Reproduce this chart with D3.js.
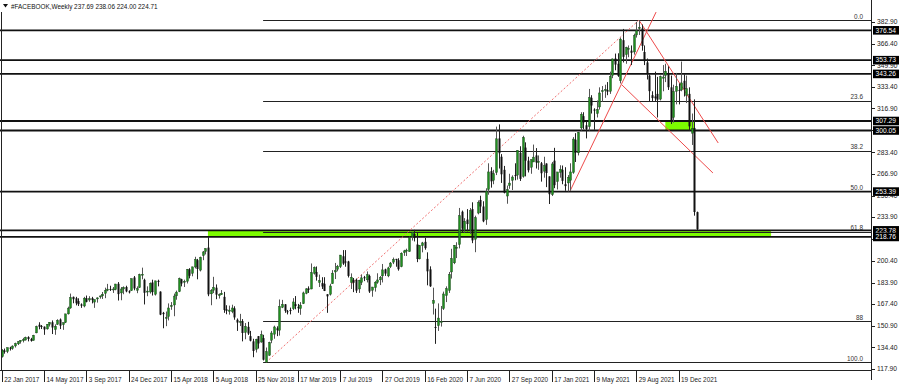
<!DOCTYPE html>
<html><head><meta charset="utf-8">
<script src="https://cdn.jsdelivr.net/npm/d3@7"></script>
<style>
html,body{margin:0;padding:0;background:#fff;}
svg text{font-family:"Liberation Sans",Arial,sans-serif;}
</style></head>
<body><svg id="c" width="900" height="386"></svg>
<script>
// ---- data (weekly bars from week of 22 Jan 2017) ----
const firstWeek = "2017-01-22";
const opens = [127.3,132.0,131.2,134.2,133.5,135.5,137.1,138.8,139.8,140.0,142.3,140.8,139.7,145.5,151.7,150.7,150.2,148.5,152.0,153.6,148.0,152.0,155.7,151.7,153.4,160.0,164.5,173.0,171.9,169.8,167.2,166.0,172.0,170.6,172.0,169.0,171.4,173.0,173.8,175.7,178.0,179.0,178.5,178.5,183.0,176.0,179.0,180.5,177.2,177.7,187.8,178.0,180.0,189.6,186.0,177.0,176.7,184.0,175.0,185.2,177.0,160.8,157.0,157.9,166.0,166.8,173.8,177.0,186.5,184.5,184.9,194.0,191.0,195.8,201.0,193.4,204.5,207.5,210.6,175.3,178.0,180.0,174.0,174.6,173.0,163.5,162.0,161.6,164.2,155.5,153.5,154.5,145.8,150.1,143.0,139.0,133.0,143.0,138.5,141.5,123.1,128.4,139.9,144.5,149.0,147.5,165.0,167.3,162.0,163.0,163.9,167.4,165.4,164.0,167.8,175.7,179.5,179.0,191.0,192.0,184.0,183.5,183.0,175.0,175.0,183.0,192.0,194.0,196.0,204.0,200.0,200.0,184.0,186.0,186.0,179.0,184.0,188.0,186.0,189.0,178.0,180.0,184.0,186.0,189.0,194.0,189.0,196.0,199.5,202.0,201.0,196.0,206.7,208.6,207.5,219.0,221.0,213.0,202.0,212.0,215.0,202.0,194.0,168.0,150.0,151.0,154.0,164.0,174.0,178.0,192.0,199.0,210.0,213.0,238.0,224.0,232.0,224.0,240.0,217.0,237.0,247.0,242.0,232.0,255.0,269.0,262.0,268.0,294.0,280.0,270.0,250.0,258.0,262.0,266.0,266.0,283.0,265.0,287.0,277.0,272.0,276.0,281.0,276.0,275.0,269.0,274.8,265.0,251.0,277.0,261.0,268.0,270.0,259.0,260.0,262.0,268.0,293.0,283.0,302.0,311.0,304.0,303.0,325.0,316.0,313.0,318.0,330.0,331.0,331.0,330.0,342.0,355.0,351.0,338.0,369.0,358.0,362.0,361.0,360.0,373.0,378.0,378.0,360.0,352.0,342.0,327.0,326.0,328.0,324.0,340.0,342.0,344.0,333.0,310.0,330.0,331.0,331.0,338.0,327.0,328.0,298.0,302.0,237.7];
const highs = [133.1,133.5,134.3,134.9,136.0,138.0,139.2,140.0,141.7,142.6,142.9,141.7,144.0,151.0,153.6,151.5,150.4,152.2,153.7,155.0,152.0,155.9,156.5,153.5,160.0,165.5,175.5,173.2,173.0,171.9,168.0,173.0,174.0,173.5,173.0,171.0,172.6,174.0,176.7,180.0,182.9,181.5,180.5,182.9,184.3,180.5,181.0,181.5,178.0,187.0,188.9,181.0,190.7,195.3,186.9,181.0,184.0,186.1,185.3,186.1,177.2,161.5,161.8,168.0,169.0,175.5,177.8,187.7,186.8,186.1,194.3,194.9,196.0,203.6,202.0,203.7,208.0,210.0,218.6,178.9,188.3,182.5,175.6,178.2,176.8,166.6,166.3,167.0,165.8,156.5,160.0,156.0,153.0,153.9,147.0,141.0,141.0,143.0,147.2,144.0,134.3,138.7,147.0,151.0,150.5,171.0,170.7,167.5,163.0,164.8,172.0,173.6,167.6,169.0,177.0,179.6,181.0,198.5,196.2,196.2,190.0,188.0,188.0,175.0,183.0,193.4,198.9,197.4,205.0,208.7,208.7,200.5,190.9,187.4,187.0,186.0,190.0,189.0,192.4,190.0,180.6,185.0,191.0,188.9,198.1,194.5,196.0,199.6,203.0,202.0,202.5,207.0,208.9,209.8,219.0,222.6,224.2,222.0,212.5,215.0,218.0,207.0,196.3,180.0,164.0,168.0,166.0,177.0,181.0,192.0,209.7,212.6,214.7,240.9,238.9,233.1,240.0,240.8,245.2,235.0,246.6,250.2,246.0,255.9,275.0,272.0,270.0,303.0,304.7,282.0,273.0,258.0,267.0,265.8,275.0,285.0,288.0,296.0,291.0,280.0,278.0,289.3,286.6,281.0,276.0,280.0,275.0,265.0,276.0,286.8,268.0,273.5,273.3,272.0,266.0,275.0,295.0,298.0,299.0,314.0,314.0,307.0,331.8,327.0,317.0,323.0,333.0,334.0,335.0,337.0,345.0,355.0,358.8,359.0,371.0,377.6,364.0,365.0,365.0,374.0,383.0,384.3,381.0,365.0,355.0,343.0,330.0,345.0,341.0,342.0,350.0,351.0,349.0,342.0,335.0,344.0,336.0,352.7,343.0,342.0,333.0,313.0,323.8,238.1];
const lows = [126.6,129.6,130.0,132.0,132.6,134.3,136.2,137.3,138.2,139.7,139.0,138.8,139.6,145.2,148.2,148.4,144.0,148.0,150.3,144.6,144.0,151.6,148.4,147.8,153.0,159.5,163.9,168.1,166.5,166.0,164.6,165.0,168.8,169.2,168.0,164.6,168.6,171.6,171.4,172.0,177.3,177.5,176.0,178.0,170.2,170.4,175.0,176.5,175.6,177.5,178.0,175.8,179.8,186.4,167.2,173.5,175.5,174.0,174.0,181.0,159.0,149.0,150.6,155.0,163.1,158.2,170.8,176.6,181.0,180.5,183.2,187.1,188.7,194.7,186.4,192.4,201.0,205.4,173.5,166.6,175.9,171.2,171.7,174.5,160.8,159.7,159.4,160.5,155.5,147.0,150.7,139.0,140.6,143.9,139.0,126.9,130.5,133.5,138.0,124.4,123.02,128.0,137.6,141.0,143.0,143.4,164.4,160.8,159.6,159.6,162.9,163.5,160.8,159.3,167.5,175.0,176.0,178.8,190.0,185.4,180.5,179.0,177.4,160.8,174.0,183.0,186.6,192.5,195.0,197.4,196.0,187.8,179.0,176.6,176.0,176.0,182.0,185.0,184.0,176.0,173.1,177.0,183.0,182.0,184.0,189.0,188.0,195.0,198.0,196.0,193.0,195.6,204.3,204.2,207.5,216.0,215.3,199.5,201.6,207.0,209.0,181.8,180.6,159.5,137.1,147.0,150.3,163.0,169.0,176.0,187.0,198.0,202.6,210.0,222.0,222.0,223.0,221.0,214.0,207.1,236.0,237.0,230.0,228.0,251.0,256.4,259.0,266.0,271.0,260.0,252.0,244.1,255.5,254.6,262.0,262.5,261.5,264.0,265.0,268.0,267.0,276.0,271.0,270.0,261.0,264.0,256.8,243.9,250.0,256.0,255.0,264.0,259.0,254.0,253.5,254.0,267.0,276.0,281.0,300.0,301.0,294.0,300.0,313.0,300.6,310.0,316.0,322.0,325.0,327.0,328.0,340.0,346.0,341.0,336.0,352.0,351.0,356.0,350.0,358.0,371.0,373.0,361.0,350.0,339.0,322.0,322.0,322.0,310.0,323.0,330.0,337.0,331.0,305.0,306.0,320.0,320.0,330.0,326.0,321.0,300.0,289.0,235.0,224.0];
const closes = [132.2,131.0,134.2,133.5,135.4,137.4,138.7,139.8,140.3,142.1,140.8,139.4,143.7,150.3,150.2,150.3,148.1,152.1,153.6,149.6,150.6,155.1,151.0,153.2,160.0,164.4,172.5,171.2,168.1,167.4,166.3,172.0,169.2,171.6,170.5,170.9,172.2,173.7,175.0,177.9,178.9,178.8,179.0,182.8,175.1,179.0,180.2,177.2,176.5,186.9,179.4,179.3,190.0,190.3,176.1,177.4,183.3,176.6,185.2,185.1,159.4,159.8,157.2,164.5,166.3,173.6,176.6,187.0,183.2,184.9,194.0,189.1,195.9,201.7,194.3,203.2,207.3,209.9,174.9,177.8,180.3,174.7,174.6,175.7,163.0,162.3,162.9,164.5,157.3,153.4,154.1,145.4,150.4,145.0,139.5,131.7,140.6,137.4,144.1,125.0,131.1,138.1,145.4,150.0,147.5,165.7,167.3,162.3,161.9,162.3,169.1,166.0,164.3,166.7,176.0,179.1,178.3,191.5,195.5,188.3,185.3,180.9,177.5,173.4,181.3,191.1,193.0,196.4,204.9,198.4,199.8,189.0,187.9,183.7,177.8,185.7,187.5,187.2,189.9,177.1,180.5,184.2,185.9,187.9,193.6,190.8,195.1,198.8,201.6,201.1,194.1,206.3,208.1,208.7,218.3,222.1,217.9,201.9,212.3,214.2,210.2,192.5,181.1,170.3,149.7,156.8,154.2,175.2,179.2,190.1,202.3,212.4,210.9,234.9,225.1,230.8,228.6,238.8,216.1,233.4,245.1,242.0,230.7,253.7,268.4,261.2,267.0,293.7,282.7,266.6,252.5,254.8,259.9,264.5,265.9,284.8,263.1,294.7,277.0,269.7,277.8,279.7,275.6,276.4,267.4,273.2,267.6,251.4,274.5,258.3,268.4,270.5,261.6,257.6,264.3,268.4,293.5,283.0,298.7,312.5,306.2,301.1,325.1,319.1,315.9,316.2,328.7,330.4,331.3,329.7,341.4,354.7,350.4,341.7,369.8,356.3,363.5,362.7,359.4,372.6,376.3,378.7,364.7,353.0,343.0,330.1,324.8,324.6,323.6,341.1,340.9,345.3,333.1,306.8,329.8,333.8,330.5,336.4,331.8,331.9,303.2,301.7,237.8,224.7];

const priceTicks = [382.90,366.40,349.90,333.40,316.90,300.40,283.40,266.90,250.40,233.90,217.40,200.40,183.90,167.40,150.90,134.40,117.90];
const dateLabels = ["22 Jan 2017","14 May 2017","3 Sep 2017","24 Dec 2017","15 Apr 2018","5 Aug 2018","25 Nov 2018","17 Mar 2019","7 Jul 2019","27 Oct 2019","16 Feb 2020","7 Jun 2020","27 Sep 2020","17 Jan 2021","9 May 2021","29 Aug 2021","19 Dec 2021"];
const dateLabelBars = [0,16,32,48,64,80,96,112,128,144,160,176,192,208,224,240,256];
const levelPrices = [376.54,353.73,343.26,307.29,300.05,253.39,223.78,218.76];
const fibHigh = 384.33, fibLow = 123.02, fibStartBar = 100;
const fibRatios = [0,23.6,38.2,50.0,61.8,88,100];
const fibNames = ["0.0","23.6","38.2","50.0","61.8","88","100.0"];
// trend lines: [bar0, price0, bar1, price1, dotted]
const trendLines = [
  [100,123.02,241,384.33,true],
  [215,254.0,247.5,390.5,false],
  [241.3,383.5,271,290.5,false],
  [234.6,334.8,269,267.6,false]
];
// zones: [bar0, bar1, priceTop, priceBottom]
const zones = [[78,291,223.78,218.76],[251,262,307.29,300.05]];
const header = "#FACEBOOK,Weekly  237.69 238.06 224.00 224.71";

// ---- drawing ----
const svg = d3.select("#c");
const W = 900, H = 386;
const axisX = 871, plotBottom = 370;
const n = closes.length;
const x = d3.scaleLinear().domain([0, n-1]).range([1.7, 1.7 + 2.644*(n-1)]);
const y = d3.scaleLinear().domain([117.9, 382.9]).range([369, 22]);
const FS = 6.7, FSD = 6.4;

svg.append("rect").attr("width",W).attr("height",H).attr("fill","#fff");

// zones
svg.append("g").selectAll("rect").data(zones).join("rect")
  .attr("x", d=>x(d[0])).attr("width", d=>x(d[1])-x(d[0]))
  .attr("y", d=>y(d[2])).attr("height", d=>y(d[3])-y(d[2]))
  .attr("fill","#7cfc00");

// fib lines
const fibPrices = fibRatios.map(r => fibHigh - (fibHigh-fibLow)*r/100);
const fg = svg.append("g");
fg.selectAll("line").data(fibPrices).join("line")
  .attr("x1", x(fibStartBar)-3).attr("x2", axisX)
  .attr("y1", d=>Math.round(y(d))+0.5).attr("y2", d=>Math.round(y(d))+0.5)
  .attr("stroke","#222").attr("stroke-width",1);
fg.selectAll("text").data(fibPrices).join("text")
  .attr("x", axisX-8).attr("y", d=>y(d)-1.5).attr("text-anchor","end")
  .attr("font-size",FSD).attr("fill","#333").text((d,i)=>fibNames[i]);

// level lines
svg.append("g").selectAll("line").data(levelPrices).join("line")
  .attr("x1",0).attr("x2",axisX)
  .attr("y1", d=>y(d)).attr("y2", d=>y(d))
  .attr("stroke","#111").attr("stroke-width",1.8);

// trend lines
svg.append("g").selectAll("line").data(trendLines).join("line")
  .attr("x1", d=>x(d[0])).attr("y1", d=>y(d[1]))
  .attr("x2", d=>x(d[2])).attr("y2", d=>y(d[3]))
  .attr("stroke", d=>d[4] ? "#f07070" : "#ee4a4a")
  .attr("stroke-width", 1)
  .attr("stroke-dasharray", d=>d[4] ? "2,2" : null);

// candles
const cg = svg.append("g");
const idx = d3.range(n);
cg.selectAll("line.w").data(idx).join("line").attr("class","w")
  .attr("x1", i=>Math.round(x(i))+0.5).attr("x2", i=>Math.round(x(i))+0.5)
  .attr("y1", i=>y(highs[i])).attr("y2", i=>y(lows[i]))
  .attr("stroke", i=>closes[i]>=opens[i] ? "#555" : "#222").attr("stroke-width",1);
cg.selectAll("rect").data(idx).join("rect")
  .attr("x", i=>Math.round(x(i))-0.5).attr("width",2)
  .attr("y", i=>y(Math.max(opens[i],closes[i])))
  .attr("height", i=>Math.max(1, Math.abs(y(opens[i])-y(closes[i]))))
  .attr("fill", i=>closes[i]>=opens[i] ? "#1f8f1f" : "#111")
  .attr("stroke", i=>closes[i]>=opens[i] ? "#1a3a1a" : "none").attr("stroke-width",0.4);

// frame
svg.append("line").attr("x1",1.5).attr("x2",1.5).attr("y1",12).attr("y2",plotBottom).attr("stroke","#222");
svg.append("line").attr("x1",axisX+0.5).attr("x2",axisX+0.5).attr("y1",0).attr("y2",plotBottom+10).attr("stroke","#222");
svg.append("line").attr("x1",0).attr("x2",axisX).attr("y1",plotBottom+0.5).attr("y2",plotBottom+0.5).attr("stroke","#222");

// price axis
const pa = svg.append("g");
pa.selectAll("line").data(priceTicks).join("line")
  .attr("x1",axisX).attr("x2",axisX+4)
  .attr("y1", d=>Math.round(y(d))+0.5).attr("y2", d=>Math.round(y(d))+0.5).attr("stroke","#222");
pa.selectAll("text").data(priceTicks).join("text")
  .attr("x",axisX+6).attr("y", d=>y(d)+2.3)
  .attr("font-size",FS).attr("fill","#222").text(d=>d.toFixed(2));
// level boxes
const lb = svg.append("g").selectAll("g").data(levelPrices).join("g");
lb.append("rect").attr("x",axisX+2).attr("width",26).attr("y", d=>y(d)-4.3).attr("height",8.6).attr("fill","#000");
lb.append("text").attr("x",axisX+4.5).attr("y", d=>y(d)+2.3)
  .attr("font-size",FS).attr("fill","#fff").text(d=>d.toFixed(2));

// time axis
const ta = svg.append("g");
ta.selectAll("line").data(dateLabelBars).join("line")
  .attr("x1", b=>Math.round(x(b))+0.5).attr("x2", b=>Math.round(x(b))+0.5)
  .attr("y1", plotBottom).attr("y2", plotBottom+12).attr("stroke","#222");
ta.selectAll("text").data(dateLabelBars).join("text")
  .attr("x", b=>x(b)+2.5).attr("y", 382)
  .attr("font-size",FSD).attr("fill","#222").text((b,i)=>dateLabels[i]);

// header
svg.append("path").attr("d","M3,4 L8,4 L5.5,7.5 Z").attr("fill","#111");
svg.append("text").attr("x",11).attr("y",8.8).attr("font-size",FSD).attr("fill","#111").text(header);
</script></body></html>
